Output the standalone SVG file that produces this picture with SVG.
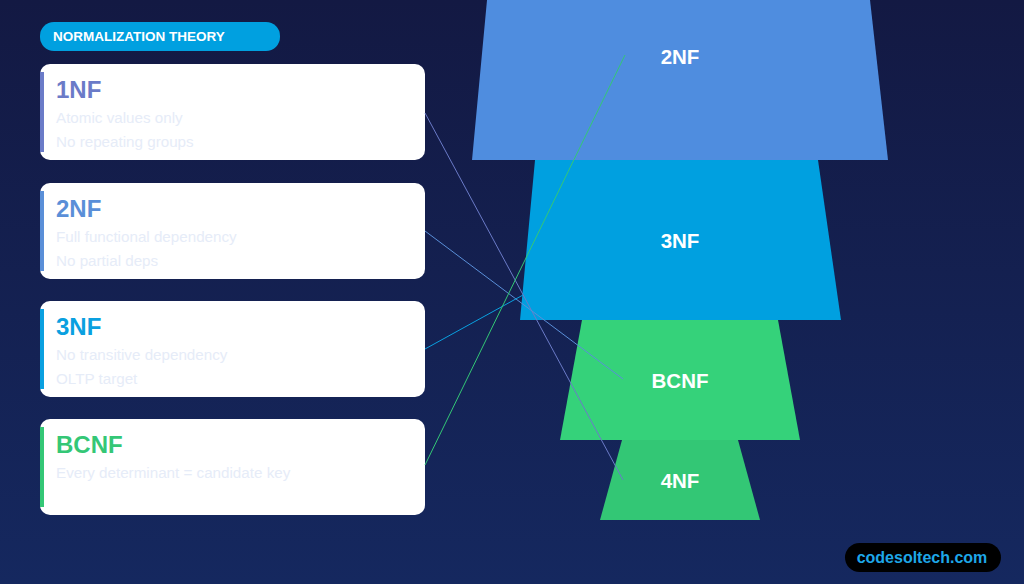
<svg xmlns="http://www.w3.org/2000/svg" width="1024" height="584" viewBox="0 0 1024 584">
<defs>
<linearGradient id="bg" x1="0" y1="0" x2="0" y2="1"><stop offset="0" stop-color="#131943"/><stop offset="1" stop-color="#15285f"/></linearGradient>
<style>
text{font-family:"Liberation Sans",Arial,sans-serif}
.card{fill:#fff}
.t{font-size:24px;font-weight:bold}
.s{font-size:15.2px;fill:#e6ecf8}
.lbl{font-size:20.5px;font-weight:bold;fill:#fff;text-anchor:middle}
.c{fill:none;stroke-width:1}
</style>
</defs>
<rect width="1024" height="584" fill="url(#bg)"/>
<g id="badge"><rect x="40" y="22" width="240" height="29" rx="14" fill="#00a0e0"/><text x="53" y="41" font-size="13.5" font-weight="bold" fill="#fff">NORMALIZATION THEORY</text></g>
<g id="card1nf"><rect class="card" x="40" y="64" width="385" height="96" rx="10"/><rect x="40" y="72" width="4" height="80" fill="#6b7bc8"/><text class="t" x="56" y="98" fill="#6b7bc8">1NF</text><text class="s" x="56" y="123">Atomic values only</text><text class="s" x="56" y="147">No repeating groups</text></g>
<g id="card2nf"><rect class="card" x="40" y="183" width="385" height="96" rx="10"/><rect x="40" y="191" width="4" height="80" fill="#5a8fd8"/><text class="t" x="56" y="217" fill="#5a8fd8">2NF</text><text class="s" x="56" y="242">Full functional dependency</text><text class="s" x="56" y="266">No partial deps</text></g>
<g id="card3nf"><rect class="card" x="40" y="301" width="385" height="96" rx="10"/><rect x="40" y="309" width="4" height="80" fill="#0aa0e0"/><text class="t" x="56" y="335" fill="#0aa0e0">3NF</text><text class="s" x="56" y="360">No transitive dependency</text><text class="s" x="56" y="384">OLTP target</text></g>
<g id="cardbcnf"><rect class="card" x="40" y="419" width="385" height="96" rx="10"/><rect x="40" y="427" width="4" height="80" fill="#34c776"/><text class="t" x="56" y="453" fill="#34c776">BCNF</text><text class="s" x="56" y="478">Every determinant = candidate key</text></g>
<g id="f2nf"><polygon points="487,0 870,0 888,160 472,160" fill="#4f8ddf"/><text class="lbl" x="680" y="64">2NF</text></g>
<g id="f3nf"><polygon points="535,160 818,160 841,320 520,320" fill="#00a0e0"/><text class="lbl" x="680" y="248">3NF</text></g>
<g id="fbcnf"><polygon points="582,320 778,320 800,440 560,440" fill="#35d27a"/><text class="lbl" x="680" y="388">BCNF</text></g>
<g id="f4nf"><polygon points="622,440 738,440 760,520 600,520" fill="#33c775"/><text class="lbl" x="680" y="488">4NF</text></g>
<g id="connectors">
<line class="c" x1="425" y1="113" x2="623" y2="480" stroke="#6b7bc8"/>
<line class="c" x1="425" y1="231" x2="623" y2="379" stroke="#5a8fd8"/>
<line class="c" x1="425" y1="349" x2="523" y2="295" stroke="#0aa0e0"/>
<line class="c" x1="425" y1="465" x2="625" y2="55" stroke="#34c776"/>
</g>
<g id="footer"><rect x="845" y="543" width="156" height="29" rx="14.5" fill="#000"/><text x="922" y="563" font-size="16" font-weight="bold" fill="#1ea7e8" text-anchor="middle">codesoltech.com</text></g>
</svg>
